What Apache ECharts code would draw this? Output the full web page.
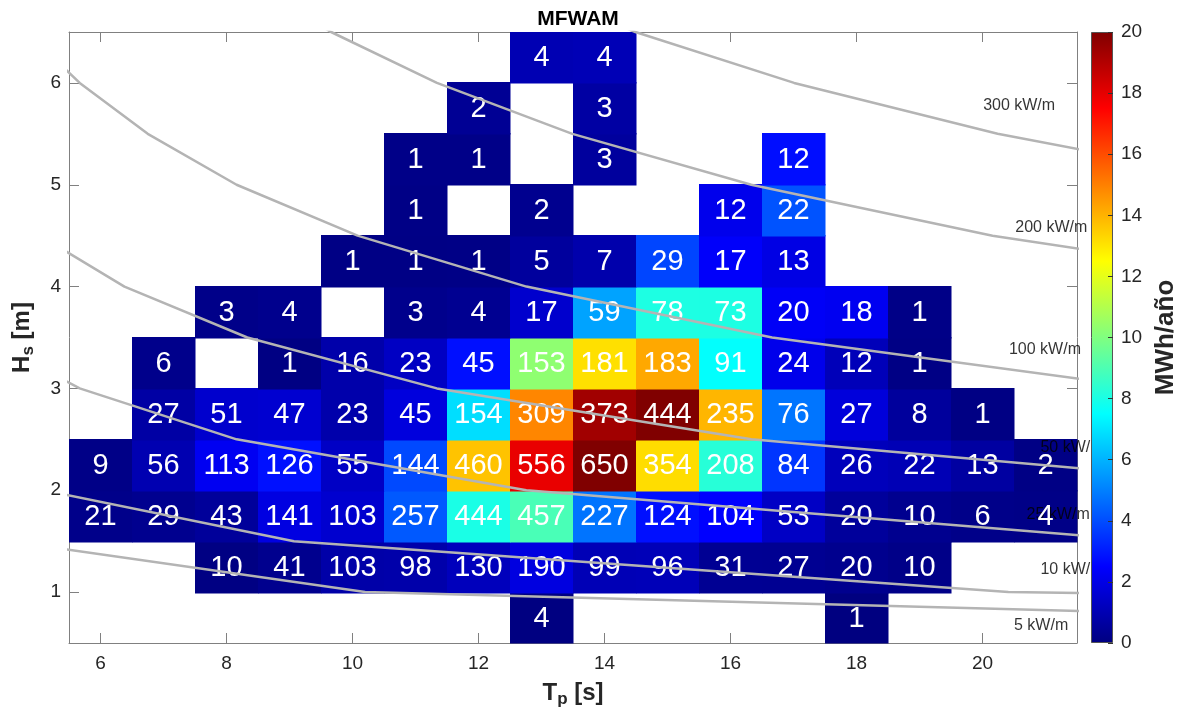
<!DOCTYPE html>
<html>
<head>
<meta charset="utf-8">
<script src="https://cdn.jsdelivr.net/npm/echarts@6/dist/echarts.min.js"></script>
<style>
  html, body { margin: 0; padding: 0; background: #fff; }
  #chart { width: 1180px; height: 717px; }
</style>
</head>
<body>
<div id="chart"></div>
<script>
// ---------------- DATA ----------------
const tpValues = [6, 7, 8, 9, 10, 11, 12, 13, 14, 15, 16, 17, 18, 19, 20, 21];
const hsValues = [0.75, 1.25, 1.75, 2.25, 2.75, 3.25, 3.75, 4.25, 4.75, 5.25, 5.75, 6.25];
const xTicks = [6, 8, 10, 12, 14, 16, 18, 20];
const yTicks = [1, 2, 3, 4, 5, 6];

const n = null;
// hours per (Hs row, Tp column) - text in each cell
const hours = [
  [n, n, n, n, n, n, n, 4, n, n, n, n, 1, n, n, n],
  [n, n, 10, 41, 103, 98, 130, 190, 99, 96, 31, 27, 20, 10, n, n],
  [21, 29, 43, 141, 103, 257, 444, 457, 227, 124, 104, 53, 20, 10, 6, 4],
  [9, 56, 113, 126, 55, 144, 460, 556, 650, 354, 208, 84, 26, 22, 13, 2],
  [n, 27, 51, 47, 23, 45, 154, 309, 373, 444, 235, 76, 27, 8, 1, n],
  [n, 6, n, 1, 16, 23, 45, 153, 181, 183, 91, 24, 12, 1, n, n],
  [n, n, 3, 4, n, 3, 4, 17, 59, 78, 73, 20, 18, 1, n, n],
  [n, n, n, n, 1, 1, 1, 5, 7, 29, 17, 13, n, n, n, n],
  [n, n, n, n, n, 1, n, 2, n, n, 12, 22, n, n, n, n],
  [n, n, n, n, n, 1, 1, n, 3, n, n, 12, n, n, n, n],
  [n, n, n, n, n, n, 2, n, 3, n, n, n, n, n, n, n],
  [n, n, n, n, n, n, n, 4, 4, n, n, n, n, n, n, n]
];
// energy (MWh/año) per cell - colour of each cell
const energy = [
  [n, n, n, n, n, n, n, 0.01, n, n, n, n, 0.005, n, n, n],
  [n, n, 0.06, 0.28, 0.79, 0.83, 1.19, 1.89, 1.06, 1.10, 0.38, 0.35, 0.28, 0.15, n, n],
  [0.19, 0.30, 0.52, 1.90, 1.55, 4.24, 8.00, 8.92, 4.77, 2.79, 2.50, 1.35, 0.54, 0.29, 0.18, 0.13],
  [0.13, 0.97, 2.24, 2.81, 1.36, 3.93, 13.69, 17.93, 22.57, 13.17, 8.26, 3.54, 1.16, 1.04, 0.64, 0.10],
  [n, 0.70, 1.51, 1.57, 0.85, 1.83, 6.85, 14.89, 19.35, 24.68, 13.93, 4.79, 1.80, 0.56, 0.07, n],
  [n, 0.22, n, 0.05, 0.83, 1.31, 2.79, 10.29, 13.11, 14.21, 7.54, 2.11, 1.12, 0.10, n, n],
  [n, n, 0.17, 0.25, n, 0.23, 0.33, 1.52, 5.69, 8.06, 8.05, 2.34, 2.23, 0.13, n, n],
  [n, n, n, n, 0.09, 0.10, 0.11, 0.58, 0.87, 3.85, 2.41, 1.96, n, n, n, n],
  [n, n, n, n, n, 0.12, n, 0.29, n, n, 2.12, 4.13, n, n, n, n],
  [n, n, n, n, n, 0.15, 0.16, n, 0.57, n, n, 2.76, n, n, n, n],
  [n, n, n, n, n, n, 0.39, n, 0.68, n, n, n, n, n, n, n],
  [n, n, n, n, n, n, n, 1.00, 1.07, n, n, n, n, n, n, n]
];
const colorbarTicks = [0, 2, 4, 6, 8, 10, 12, 14, 16, 18, 20];

// iso-power lines (Tp [s], Hs [m]) vertices
const contourNames = ['5 kW/m', '10 kW/m', '25 kW/m', '50 kW/m', '100 kW/m', '200 kW/m', '300 kW/m'];
const contour5 = [[4.535, 1.5], [10.20, 1.0], [40.82, 0.5]];
const contour10 = [[5.10, 2.0], [9.07, 1.5], [20.41, 1.0], [81.6, 0.5]];
const contour25 = [[4.165, 3.5], [5.67, 3.0], [8.16, 2.5], [12.76, 2.0], [22.68, 1.5], [51.0, 1.0]];
const contour50 = [[5.04, 4.5], [6.38, 4.0], [8.33, 3.5], [11.34, 3.0], [16.33, 2.5], [25.51, 2.0]];
const contour100 = [[4.83, 6.5], [5.67, 6.0], [6.75, 5.5], [8.16, 5.0], [10.08, 4.5], [12.76, 4.0], [16.66, 3.5], [22.68, 3.0]];
const contour200 = [[8.33, 7.0], [9.66, 6.5], [11.34, 6.0], [13.49, 5.5], [16.33, 5.0], [20.16, 4.5], [25.51, 4.0]];
const contour300 = [[12.49, 7.0], [14.49, 6.5], [17.01, 6.0], [20.24, 5.5], [24.49, 5.0]];
// label anchor (left edge, middle) of each iso-power label
const contourLabelAnchor = [[20.5, 0.67], [20.92, 1.22], [20.7, 1.76], [20.92, 2.42], [20.42, 3.385], [20.52, 4.58], [20.01, 5.78]];

// ---------------- BUILD ----------------
const FONT = '"Liberation Sans", Arial, Helvetica, sans-serif';
const jet = ['#000080', '#0000ff', '#0080ff', '#00ffff', '#80ff80', '#ffff00', '#ff8000', '#ff0000', '#800000'];

const cells = [];
hsValues.forEach((hs, r) => {
  tpValues.forEach((tp, c) => {
    const h = hours[r][c];
    if (h !== null) cells.push([tp, hs, Math.min(energy[r][c], 20), h]);
  });
});
const contours = [contour5, contour10, contour25, contour50, contour100, contour200, contour300];

const chart = echarts.init(document.getElementById('chart'), null, { renderer: 'canvas' });
const axisGray = '#808080';
const textDark = '#262626';

const series = [
  {
    name: 'cells', type: 'custom', xAxisIndex: 0, yAxisIndex: 0, z: 2,
    data: cells, encode: { x: 0, y: 1 },
    renderItem: function (params, api) {
      const tp = api.value(0), hs = api.value(1);
      const p1 = api.coord([tp - 0.5, hs + 0.25]);
      const p2 = api.coord([tp + 0.5, hs - 0.25]);
      const x0 = Math.floor(p1[0]), y0 = Math.floor(p1[1]);
      return {
        type: 'rect',
        shape: { x: x0, y: y0, width: Math.ceil(p2[0]) - x0 + 0.5, height: Math.ceil(p2[1]) - y0 + 0.5 },
        style: { fill: api.visual('color') }
      };
    }
  },
  {
    name: 'isoLabels', type: 'scatter', xAxisIndex: 0, yAxisIndex: 0, z: 3,
    symbolSize: 0, silent: true,
    data: contourLabelAnchor.map((p, i) => ({ value: p, name: contourNames[i] })),
    label: {
      show: true, position: 'right', distance: 0, formatter: '{b}',
      color: '#000', fontSize: 16, fontFamily: FONT
    }
  },
  {
    name: 'numbers', type: 'custom', xAxisIndex: 0, yAxisIndex: 0, z: 4,
    data: cells, encode: { x: 0, y: 1 }, silent: true,
    renderItem: function (params, api) {
      const c = api.coord([api.value(0), api.value(1)]);
      return {
        type: 'text', x: c[0], y: c[1] + 1,
        style: {
          text: String(api.value(3)), fill: '#ffffff',
          fontSize: 29, fontFamily: FONT, align: 'center', verticalAlign: 'middle'
        }
      };
    }
  }
];
contours.forEach((pts, i) => {
  series.push({
    name: contourNames[i], type: 'line', xAxisIndex: 0, yAxisIndex: 0, z: 5,
    data: pts, symbol: 'none', clip: true, silent: true, smooth: false,
    lineStyle: { color: '#b4b4b4', width: 2.5 }
  });
});
series.push({
  name: 'colorbar', type: 'bar', xAxisIndex: 2, yAxisIndex: 2, z: 6,
  data: [20], barWidth: '100%', silent: true,
  itemStyle: {
    borderColor: '#555', borderWidth: 1,
    color: {
      type: 'linear', x: 0, y: 0, x2: 0, y2: 1,
      colorStops: jet.slice().reverse().map((c, i) => ({ offset: i / (jet.length - 1), color: c }))
    }
  }
});

const baseAxis = {
  axisLine: { show: true, lineStyle: { color: axisGray, width: 1 } },
  splitLine: { show: false }
};

const option = {
  backgroundColor: '#ffffff',
  animation: false,
  title: {
    text: 'MFWAM', left: 573, top: 4, textAlign: 'center',
    textStyle: { fontSize: 21, fontWeight: 'bold', color: '#000', fontFamily: FONT }
  },
  grid: [
    { left: 69, top: 32, width: 1008, height: 611 },
    { left: 1091, top: 32, width: 26, height: 611 }
  ],
  visualMap: {
    type: 'continuous', show: false, min: 0, max: 20, dimension: 2, seriesIndex: 0,
    inRange: { color: jet }
  },
  xAxis: [
    Object.assign({}, baseAxis, {
      type: 'value', gridIndex: 0, min: 5.5, max: 21.5, position: 'bottom',
      axisTick: { show: true, inside: true, length: 10, lineStyle: { color: axisGray }, customValues: xTicks },
      axisLabel: { customValues: xTicks, fontSize: 19, color: textDark, fontFamily: FONT, margin: 11 },
      name: '{a|T}{s|p}{a| [s]}', nameLocation: 'middle', nameGap: 35,
      nameTextStyle: {
        rich: {
          a: { fontSize: 24, fontWeight: 'bold', color: textDark, fontFamily: FONT },
          s: { fontSize: 17, fontWeight: 'bold', color: textDark, fontFamily: FONT, padding: [13, 0, 0, 0] }
        }
      }
    }),
    Object.assign({}, baseAxis, {
      type: 'value', gridIndex: 0, min: 5.5, max: 21.5, position: 'top',
      axisTick: { show: true, inside: true, length: 10, lineStyle: { color: axisGray }, customValues: xTicks },
      axisLabel: { show: false }
    }),
    { type: 'category', gridIndex: 1, data: ['cb'], show: false }
  ],
  yAxis: [
    Object.assign({}, baseAxis, {
      type: 'value', gridIndex: 0, min: 0.5, max: 6.5, position: 'left',
      axisTick: { show: true, inside: true, length: 10, lineStyle: { color: axisGray }, customValues: yTicks },
      axisLabel: { customValues: yTicks, fontSize: 19, color: textDark, fontFamily: FONT, margin: 8 },
      name: '{a|H}{s|s}{a| [m]}', nameLocation: 'middle', nameGap: 32, nameRotate: 90,
      nameTextStyle: {
        rich: {
          a: { fontSize: 24, fontWeight: 'bold', color: textDark, fontFamily: FONT },
          s: { fontSize: 17, fontWeight: 'bold', color: textDark, fontFamily: FONT, padding: [13, 0, 0, 0] }
        }
      }
    }),
    Object.assign({}, baseAxis, {
      type: 'value', gridIndex: 0, min: 0.5, max: 6.5, position: 'right',
      axisTick: { show: true, inside: true, length: 10, lineStyle: { color: axisGray }, customValues: yTicks },
      axisLabel: { show: false }
    }),
    {
      type: 'value', gridIndex: 1, min: 0, max: 20, interval: 2, position: 'right', z: 20,
      axisLine: { show: false },
      axisTick: { show: true, inside: true, length: 5, lineStyle: { color: '#333' } },
      axisLabel: { fontSize: 19, color: textDark, fontFamily: FONT, margin: 8, customValues: colorbarTicks },
      splitLine: { show: false },
      name: 'MWh/año', nameLocation: 'middle', nameGap: 40, nameRotate: 90,
      nameTextStyle: { fontSize: 26, fontWeight: 'bold', color: textDark, fontFamily: FONT }
    }
  ],
  series: series
};
chart.setOption(option);
</script>
</body>
</html>
